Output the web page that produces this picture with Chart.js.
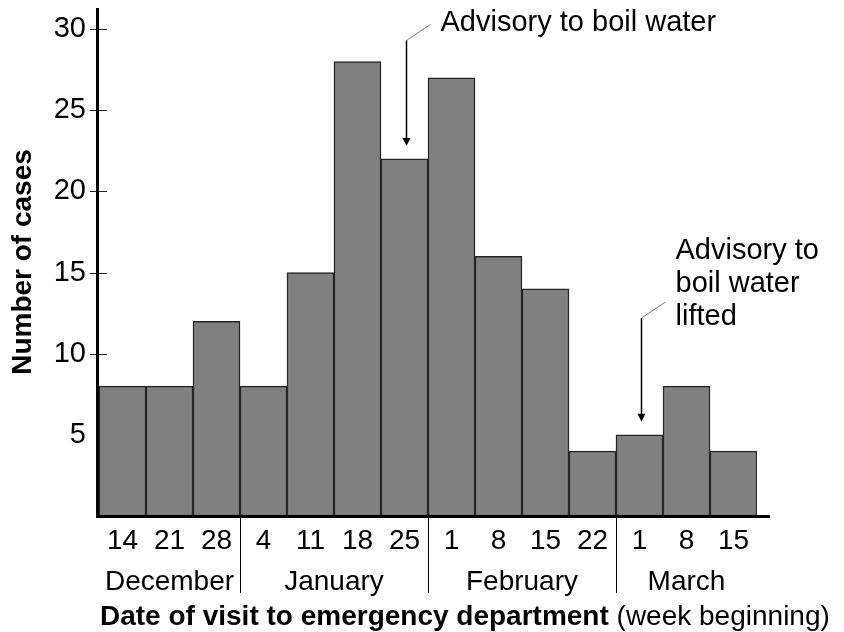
<!DOCTYPE html>
<html>
<head>
<meta charset="utf-8">
<title>Cases by week</title>
<script src="https://cdn.jsdelivr.net/npm/chart.js@4.4.0/dist/chart.umd.min.js"></script>
<style>
  html, body { margin: 0; padding: 0; background: #ffffff; }
  #chart { display: block; }
</style>
</head>
<body>
<canvas id="chart" width="844" height="632"></canvas>
<script>
// week beginning (day of month) for each bar
var dayLabels = ['14', '21', '28', '4', '11', '18', '25', '1', '8', '15', '22', '1', '8', '15'];
var cases = [8, 8, 12, 8, 15, 28, 22, 27, 16, 14, 4, 5, 8, 4];
var months = ['December', 'January', 'February', 'March'];
var monthWeeks = [3, 4, 4, 3];
var yTicks = [5, 10, 15, 20, 25, 30];

// annotations: bar index, arrow from / to value, text lines
var notes = [
    { index: 6, fromValue: 29.3, toValue: 22.8, lines: ['Advisory to boil water'] },
    { index: 11, fromValue: 12.2, toValue: 5.8, lines: ['Advisory to', 'boil water', 'lifted'] }
];

var FONT = '"Liberation Sans", Arial, sans-serif';

var extrasPlugin = {
    id: 'extras',
    afterDatasetsDraw: function(chart) {
        var ctx = chart.ctx;
        var area = chart.chartArea;
        var x = chart.scales.x;
        var y = chart.scales.y;
        ctx.save();

        // y tick marks crossing the axis
        ctx.strokeStyle = '#222';
        ctx.lineWidth = 1;
        yTicks.forEach(function(v) {
            if (v === 5) return;
            var py = Math.round(y.getPixelForValue(v)) + 0.5;
            ctx.beginPath();
            ctx.moveTo(area.left - 9, py);
            ctx.lineTo(area.left + 8, py);
            ctx.stroke();
        });

        // month separators under the axis
        ctx.strokeStyle = '#000';
        var start = 0;
        monthWeeks.forEach(function(n, i) {
            if (i > 0) {
                var px = Math.round(x.getPixelForValue(start - 0.5)) + 0.5;
                ctx.beginPath();
                ctx.moveTo(px, area.bottom);
                ctx.lineTo(px, area.bottom + 77);
                ctx.stroke();
            }
            start += n;
        });

        // axis lines
        ctx.lineWidth = 3;
        ctx.strokeStyle = '#000';
        ctx.beginPath();
        ctx.moveTo(area.left - 1.5, area.top);
        ctx.lineTo(area.left - 1.5, area.bottom + 2);
        ctx.moveTo(area.left - 3, area.bottom + 0.5);
        ctx.lineTo(area.right + 13, area.bottom + 0.5);
        ctx.stroke();

        // month names
        ctx.fillStyle = '#000';
        ctx.font = '28px ' + FONT;
        ctx.textAlign = 'center';
        ctx.textBaseline = 'alphabetic';
        start = 0;
        monthWeeks.forEach(function(n, i) {
            var cx = x.getPixelForValue(start + (n - 1) / 2);
            ctx.fillText(months[i], cx, area.bottom + 74);
            start += n;
        });

        // x axis title: bold part + normal part
        var boldPart = 'Date of visit to emergency department';
        var normalPart = ' (week beginning)';
        ctx.textAlign = 'left';
        ctx.font = 'bold 28px ' + FONT;
        var w1 = ctx.measureText(boldPart).width;
        ctx.fillText(boldPart, 100, 625);
        ctx.font = '28px ' + FONT;
        ctx.fillText(normalPart, 100 + w1, 625);

        // annotations
        notes.forEach(function(n) {
            var ax = x.getPixelForValue(n.index) + 2;
            var top = y.getPixelForValue(n.fromValue);
            var tip = y.getPixelForValue(n.toValue);
            // grey leader
            ctx.strokeStyle = '#808080';
            ctx.lineWidth = 1;
            ctx.beginPath();
            ctx.moveTo(ax, top);
            ctx.lineTo(ax + 24, top - 16);
            ctx.stroke();
            // shaft
            ctx.strokeStyle = '#000';
            ctx.lineWidth = 1.5;
            ctx.beginPath();
            ctx.moveTo(ax, top);
            ctx.lineTo(ax, tip - 6);
            ctx.stroke();
            // head
            ctx.fillStyle = '#000';
            ctx.beginPath();
            ctx.moveTo(ax - 4, tip - 8);
            ctx.lineTo(ax + 4, tip - 8);
            ctx.lineTo(ax, tip);
            ctx.closePath();
            ctx.fill();
            // text
            ctx.font = '29px ' + FONT;
            ctx.textAlign = 'left';
            var base = n.lines.length === 1 ? top - 9 : top + 7 - (n.lines.length - 1) * 33;
            n.lines.forEach(function(line, k) {
                ctx.fillText(line, ax + 34, base + k * 33);
            });
        });

        ctx.restore();
    }
};

var ctx = document.getElementById('chart').getContext('2d');
new Chart(ctx, {
    type: 'bar',
    data: {
        labels: dayLabels,
        datasets: [{
            label: 'Number of cases',
            data: cases,
            backgroundColor: '#808080',
            borderColor: '#262626',
            borderWidth: 1.5,
            borderSkipped: false,
            barPercentage: 1,
            categoryPercentage: 1
        }]
    },
    options: {
        responsive: false,
        devicePixelRatio: 1,
        animation: false,
        layout: { padding: { top: 8, right: 87, left: 0, bottom: 0 } },
        plugins: {
            legend: { display: false },
            tooltip: { enabled: false }
        },
        scales: {
            x: {
                grid: { display: false, drawTicks: false },
                border: { display: false },
                ticks: {
                    color: '#000',
                    font: { family: FONT, size: 28 },
                    padding: 8,
                    maxRotation: 0,
                    autoSkip: false
                },
                afterFit: function(scale) {
                    scale.height = 116;
                    scale.paddingLeft = 0;
                    scale.paddingRight = 0;
                }
            },
            y: {
                min: 0,
                max: 31.3,
                grid: { display: false, drawTicks: false },
                border: { display: false },
                ticks: {
                    color: '#000',
                    font: { family: FONT, size: 29 },
                    padding: 13
                },
                afterBuildTicks: function(scale) {
                    scale.ticks = yTicks.map(function(v) { return { value: v }; });
                },
                title: {
                    display: true,
                    text: 'Number of cases',
                    color: '#000',
                    font: { family: FONT, size: 28, weight: 'bold' },
                    padding: { top: 6, bottom: 0 }
                },
                afterFit: function(scale) {
                    scale.width = 99;
                    scale.paddingTop = 0;
                    scale.paddingBottom = 0;
                }
            }
        }
    },
    plugins: [extrasPlugin]
});
</script>
</body>
</html>
